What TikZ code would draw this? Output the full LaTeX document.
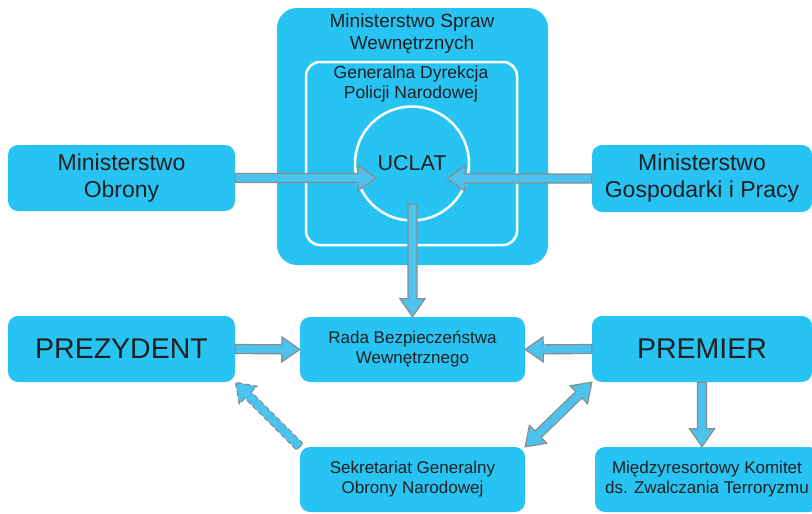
\documentclass[tikz,border=0pt]{standalone}
\usepackage{fontspec}
\setmainfont{Liberation Sans}
\usetikzlibrary{calc}
\definecolor{boxblue}{HTML}{27C4F3}
\definecolor{arrblue}{HTML}{4CC3EF}
\definecolor{arrgrey}{HTML}{8C8C8C}
\definecolor{txtcol}{HTML}{231F20}
\tikzset{
  box/.style={fill=boxblue, rounded corners=10pt, text=txtcol, align=center, inner sep=0pt},
  txt/.style={text=txtcol, align=center, inner sep=0pt},
  arrowbody/.style={fill=arrblue, draw=arrgrey, line width=1.2pt, line join=miter},
}
\newcommand\getarrow[2]{%
  \path let \p1=(#1), \p2=(#2) in \pgfextra{%
    \pgfmathsetmacro\arrang{atan2(\y2-\y1,\x2-\x1)}%
    \pgfmathsetmacro\arrlen{veclen(\x2-\x1,\y2-\y1)}%
    \xdef\arrang{\arrang}\xdef\arrlen{\arrlen}%
    \xdef\arrx{\x1}\xdef\arry{\y1}};
}
\newcommand\fatarrow[3][]{%
  \getarrow{#2}{#3}
  \draw[arrowbody,shift={(\arrx,\arry)},rotate=\arrang,#1]
    (0pt,-4.5pt) -- (\arrlen pt-18pt,-4.5pt) -- (\arrlen pt-18pt,-12.5pt) -- (\arrlen pt,0pt)
    -- (\arrlen pt-18pt,12.5pt) -- (\arrlen pt-18pt,4.5pt) -- (0pt,4.5pt) -- cycle;
}
\newcommand\fatdarrow[3][]{%
  \getarrow{#2}{#3}
  \draw[arrowbody,shift={(\arrx,\arry)},rotate=\arrang,#1]
    (0pt,0pt) -- (18pt,12.5pt) -- (18pt,4.5pt) -- (\arrlen pt-18pt,4.5pt) -- (\arrlen pt-18pt,12.5pt)
    -- (\arrlen pt,0pt) -- (\arrlen pt-18pt,-12.5pt) -- (\arrlen pt-18pt,-4.5pt) -- (18pt,-4.5pt)
    -- (18pt,-12.5pt) -- cycle;
}
\begin{document}
\begin{tikzpicture}[x=1pt,y=-1pt]
    \useasboundingbox (0,0) rectangle (812,514);
    \clip (0,0) rectangle (812,514);
    \fill[white] (0,0) rectangle (812,514);
    \node[box, rounded corners=20pt, minimum width=271pt, minimum height=257pt] (msw) at (412.5,136.5) {};
    \node[txt, font=\fontsize{19}{22}\selectfont] (mswtext) at (412,34) {Ministerstwo Spraw\\Wewnętrznych};
    \node[draw=white, line width=2.5pt, rounded corners=14pt, minimum width=211pt, minimum height=183pt] (gdpn) at (411.5,153.5) {};
    \node[txt, font=\fontsize{17.5}{19.5}\selectfont] (gdpntext) at (411,84) {Generalna Dyrekcja\\Policji Narodowej};
    \node[circle, draw=white, line width=2.5pt, fill=boxblue, minimum size=114pt, inner sep=0pt, text=txtcol, font=\fontsize{21.5}{24}\selectfont] (uclat) at (412,163.5) {UCLAT};
    \node[box, minimum width=227pt, minimum height=66pt, font=\fontsize{23}{27}\selectfont] (obrony) at (121.5,178) {Ministerstwo\\Obrony};
    \node[box, minimum width=220pt, minimum height=67pt, font=\fontsize{23}{27}\selectfont] (gosp) at (702,178.5) {Ministerstwo\\Gospodarki i Pracy};
    \node[box, minimum width=227pt, minimum height=66pt, font=\fontsize{28.5}{32}\selectfont] (prez) at (121.5,349) {PREZYDENT};
    \node[box, minimum width=225pt, minimum height=65pt, font=\fontsize{17}{20}\selectfont] (rada) at (412.5,349.5) {Rada Bezpieczeństwa\\Wewnętrznego};
    \node[box, minimum width=220pt, minimum height=66pt, font=\fontsize{28.5}{32}\selectfont] (premier) at (702,349) {PREMIER};
    \node[box, minimum width=225pt, minimum height=65pt, font=\fontsize{17}{20}\selectfont] (sekr) at (412.5,479.5) {Sekretariat Generalny\\Obrony Narodowej};
    \node[box, minimum width=224pt, minimum height=65pt, font=\fontsize{17}{20}\selectfont] (komitet) at (707,479.5) {Międzyresortowy Komitet\\ds. Zwalczania Terroryzmu};
    \coordinate (inL) at (376,178);
    \coordinate (inR) at (447,178.5);
    \coordinate (inB) at (412.5,204);
    \fatarrow{obrony.east}{inL}
    \fatarrow{gosp.west}{inR}
    \fatarrow{inB}{rada.north}
    \fatarrow{prez.east}{rada.west}
    \fatarrow{premier.west}{rada.east}
    \fatarrow{premier.south}{premier.south |- komitet.north}
    \fatdarrow{sekr.north east}{premier.south west}
    \fatarrow[dash pattern=on 5pt off 3pt]{sekr.north west}{prez.south east}
\end{tikzpicture}
\end{document}
